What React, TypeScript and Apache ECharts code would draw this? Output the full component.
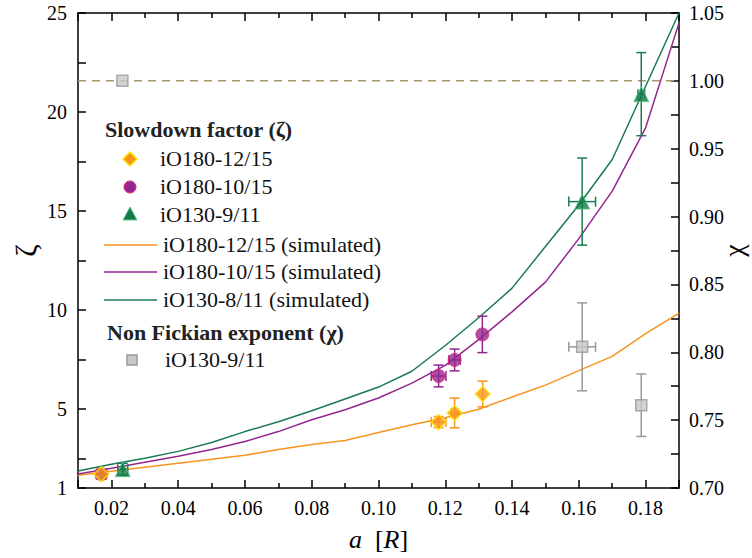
import React, { useEffect, useRef } from "react";
import * as echarts from "echarts";

// ---- data ----
const simX = [0.01, 0.02, 0.03, 0.04, 0.05, 0.06, 0.07, 0.08, 0.09, 0.1, 0.11, 0.12, 0.13, 0.14, 0.15, 0.16, 0.17, 0.18, 0.19];
const orangeSim = [1.65, 1.85, 2.05, 2.25, 2.45, 2.65, 2.95, 3.2, 3.4, 3.8, 4.2, 4.55, 4.98, 5.6, 6.2, 6.93, 7.65, 8.8, 9.84];
const purpleSim = [1.71, 2.0, 2.3, 2.6, 2.95, 3.35, 3.85, 4.45, 4.95, 5.55, 6.3, 7.2, 8.5, 9.9, 11.4, 13.6, 16.0, 19.2, 24.5];
const greenSim = [1.86, 2.2, 2.5, 2.85, 3.3, 3.85, 4.35, 4.9, 5.5, 6.1, 6.9, 8.2, 9.6, 11.1, 13.2, 15.3, 17.6, 21.3, 25];

const diamondPts = [[0.017, 1.7], [0.118, 4.33], [0.1228, 4.79], [0.1312, 5.75]];
const diamondErr = [[0.0015, 0.25], [0.0022, 0.28], [0.001, 0.75], [0, 0.65]];
const circlePts = [[0.017, 1.7], [0.118, 6.66], [0.1228, 7.47], [0.1311, 8.76]];
const circleErr = [[0.0015, 0.25], [0.0022, 0.55], [0.0017, 0.55], [0, 0.92]];
const trianglePts = [[0.0234, 1.95], [0.161, 15.47], [0.1787, 20.9]];
const triangleErr = [[0.0015, 0.3], [0.004, 2.2], [0.001, 2.1]];
const squarePts = [[0.0233, 1.0], [0.161, 0.804], [0.1787, 0.761]];
const squareErr = [[0, 0], [0.004, 0.0324], [0, 0.023]];
const refLineX = [0.01, 0.19];
const refLineY = 1.0;

const FONT = "Liberation Serif";
const C_ORANGE = "#f7941d";
const C_PURPLE = "#92278f";
const C_GREEN = "#1b7a55";
const C_GRAY = "#999999";

function errData(pts: number[][], err: number[][]) {
  return pts.map((p, i) => [p[0], p[1], err[i][0], err[i][1]]);
}

function errRender(color: string) {
  return (params: any, api: any) => {
    const x = api.value(0), y = api.value(1), ex = api.value(2), ey = api.value(3);
    const cap = 5;
    const children: any[] = [];
    const st = { stroke: color, lineWidth: 1.5 };
    if (ey > 0) {
      const t = api.coord([x, y + ey]);
      const b = api.coord([x, y - ey]);
      children.push({ type: "line", shape: { x1: t[0], y1: t[1], x2: b[0], y2: b[1] }, style: st });
      children.push({ type: "line", shape: { x1: t[0] - cap, y1: t[1], x2: t[0] + cap, y2: t[1] }, style: st });
      children.push({ type: "line", shape: { x1: b[0] - cap, y1: b[1], x2: b[0] + cap, y2: b[1] }, style: st });
    }
    if (ex > 0) {
      const l = api.coord([x - ex, y]);
      const r = api.coord([x + ex, y]);
      children.push({ type: "line", shape: { x1: l[0], y1: l[1], x2: r[0], y2: r[1] }, style: st });
      children.push({ type: "line", shape: { x1: l[0], y1: l[1] - cap, x2: l[0], y2: l[1] + cap }, style: st });
      children.push({ type: "line", shape: { x1: r[0], y1: r[1] - cap, x2: r[0], y2: r[1] + cap }, style: st });
    }
    return { type: "group", children };
  };
}

export default function App() {
  const ref = useRef<HTMLDivElement>(null);
  useEffect(() => {
    const chart = echarts.init(ref.current!, null, { renderer: "svg" });
    const axisLine = { show: true, lineStyle: { color: "#000", width: 1.5 } };
    const tick = { show: true, inside: true, length: 8, lineStyle: { color: "#000", width: 1.5 } };
    const label = { color: "#000", fontFamily: FONT, fontSize: 20 };
    const legendText = (x: number, y: number, t: string, bold = false) => ({
      type: "text", left: x, top: y - 12,
      style: bold
        ? { text: t, fontFamily: FONT, fontSize: 22, fontWeight: "bold", fill: "#222" }
        : { text: t, fontFamily: FONT, fontSize: 22, fill: "#111" },
    });
    const legendLine = (y: number, color: string) => ({
      type: "line", shape: { x1: 104, y1: y, x2: 157, y2: y }, style: { stroke: color, lineWidth: 1.5 },
    });
    const lx = 130;
    const option: any = {
      animation: false,
      textStyle: { fontFamily: FONT },
      grid: { left: 78, right: 73, top: 13, bottom: 70, containLabel: false, outerBoundsMode: "none" },
      xAxis: [
        {
          type: "value", position: "bottom", min: 0.01, max: 0.19, splitNumber: 9,
          axisLine, axisTick: tick, minorTick: { show: true, splitNumber: 2, length: 5, lineStyle: { color: "#000", width: 1.5 } },
          splitLine: { show: false },
          axisLabel: { ...label, margin: 10, showMinLabel: false, showMaxLabel: false, formatter: (v: number) => v.toFixed(2) },
          name: "{i|a}  [{i|R}]", nameLocation: "middle", nameGap: 38, nameMoveOverlap: false,
          nameTextStyle: { color: "#000", fontFamily: FONT, fontSize: 26, rich: { i: { fontStyle: "italic", fontFamily: FONT, fontSize: 26, color: "#000" } } },
        },
        {
          type: "value", position: "top", min: 0.01, max: 0.19, splitNumber: 9,
          axisLine, axisTick: tick, minorTick: { show: true, splitNumber: 2, length: 5, lineStyle: { color: "#000", width: 1.5 } },
          splitLine: { show: false }, axisLabel: { show: false },
        },
      ],
      yAxis: [
        {
          type: "value", position: "left", min: 1, max: 25, splitNumber: 5,
          axisLine, axisTick: tick, minorTick: { show: true, splitNumber: 2, length: 8, lineStyle: { color: "#000", width: 1.5 } },
          splitLine: { show: false }, axisLabel: { ...label, margin: 11 },
          name: "ζ", nameLocation: "middle", nameGap: 38, nameMoveOverlap: false,
          nameTextStyle: { color: "#000", fontFamily: FONT, fontSize: 30 },
        },
        {
          type: "value", position: "right", min: 0.7, max: 1.05, interval: 0.05,
          axisLine, axisTick: tick, minorTick: { show: true, splitNumber: 2, length: 8, lineStyle: { color: "#000", width: 1.5 } },
          splitLine: { show: false }, axisLabel: { ...label, margin: 10, formatter: (v: number) => v.toFixed(2) },
          name: "χ", nameLocation: "middle", nameGap: 40, nameMoveOverlap: false,
          nameTextStyle: { color: "#000", fontFamily: FONT, fontSize: 28 },
        },
      ],
      series: [
        { name: "iO180-12/15 (simulated)", type: "line", symbol: "none", data: simX.map((x, i) => [x, orangeSim[i]]), lineStyle: { color: C_ORANGE, width: 1.5 }, z: 2 },
        { name: "iO180-10/15 (simulated)", type: "line", symbol: "none", data: simX.map((x, i) => [x, purpleSim[i]]), lineStyle: { color: C_PURPLE, width: 1.5 }, z: 2 },
        { name: "iO130-8/11 (simulated)", type: "line", symbol: "none", data: simX.map((x, i) => [x, greenSim[i]]), lineStyle: { color: C_GREEN, width: 1.5 }, z: 2 },
        { name: "ref", type: "line", symbol: "none", yAxisIndex: 1, data: refLineX.map((x) => [x, refLineY]), lineStyle: { color: "#a8986a", width: 1.5, type: [8, 6] }, z: 1 },
        { type: "custom", renderItem: errRender(C_ORANGE), data: errData(diamondPts, diamondErr), encode: { x: 0, y: 1 }, z: 3 },
        { type: "custom", renderItem: errRender(C_PURPLE), data: errData(circlePts, circleErr), encode: { x: 0, y: 1 }, z: 3 },
        { type: "custom", renderItem: errRender(C_GREEN), data: errData(trianglePts, triangleErr), encode: { x: 0, y: 1 }, z: 3 },
        { type: "custom", yAxisIndex: 1, renderItem: errRender(C_GRAY), data: errData(squarePts, squareErr), encode: { x: 0, y: 1 }, z: 3 },
        { name: "iO180-10/15", type: "scatter", symbol: "circle", symbolSize: 13, data: circlePts, itemStyle: { color: C_PURPLE, borderColor: "#e8267a", borderWidth: 1 }, z: 4 },
        { name: "iO180-12/15", type: "scatter", symbol: "diamond", symbolSize: 15, data: diamondPts, itemStyle: { color: C_ORANGE, borderColor: "#ffe600", borderWidth: 1.5 }, z: 5 },
        { name: "iO130-9/11", type: "scatter", symbol: "triangle", symbolSize: 15, data: trianglePts, itemStyle: { color: "#117a45", borderColor: "#5fc88a", borderWidth: 1 }, z: 5 },
        { name: "iO130-9/11 χ", type: "scatter", symbol: "rect", symbolSize: 11, yAxisIndex: 1, data: squarePts, itemStyle: { color: "#c8c8c8", borderColor: "#999", borderWidth: 1.5 }, z: 5 },
      ],
      graphic: [
        legendText(105, 130, "Slowdown factor (ζ)", true),
        { type: "polygon", shape: { points: [[lx, 152], [lx + 7, 159], [lx, 166], [lx - 7, 159]] }, style: { fill: C_ORANGE, stroke: "#ffe600", lineWidth: 1.5 } },
        legendText(160, 159, "iO180-12/15"),
        { type: "circle", shape: { cx: lx, cy: 187, r: 6 }, style: { fill: C_PURPLE, stroke: "#e8267a", lineWidth: 1 } },
        legendText(160, 187, "iO180-10/15"),
        { type: "polygon", shape: { points: [[lx, 207], [lx + 7, 220], [lx - 7, 220]] }, style: { fill: "#117a45", stroke: "#5fc88a", lineWidth: 1 } },
        legendText(160, 215, "iO130-9/11"),
        legendLine(245, C_ORANGE),
        legendText(163, 245, "iO180-12/15 (simulated)"),
        legendLine(272, C_PURPLE),
        legendText(163, 272, "iO180-10/15 (simulated)"),
        legendLine(300, C_GREEN),
        legendText(163, 300, "iO130-8/11 (simulated)"),
        legendText(107, 333, "Non Fickian exponent (χ)", true),
        { type: "rect", shape: { x: 127, y: 355, width: 10, height: 10 }, style: { fill: "#c8c8c8", stroke: "#999", lineWidth: 1.5 } },
        legendText(165, 360, "iO130-9/11"),
      ],
    };
    chart.setOption(option);
    return () => chart.dispose();
  }, []);
  return <div ref={ref} style={{ position: "fixed", left: 0, top: 0, width: 752, height: 558, background: "#fff" }} />;
}
